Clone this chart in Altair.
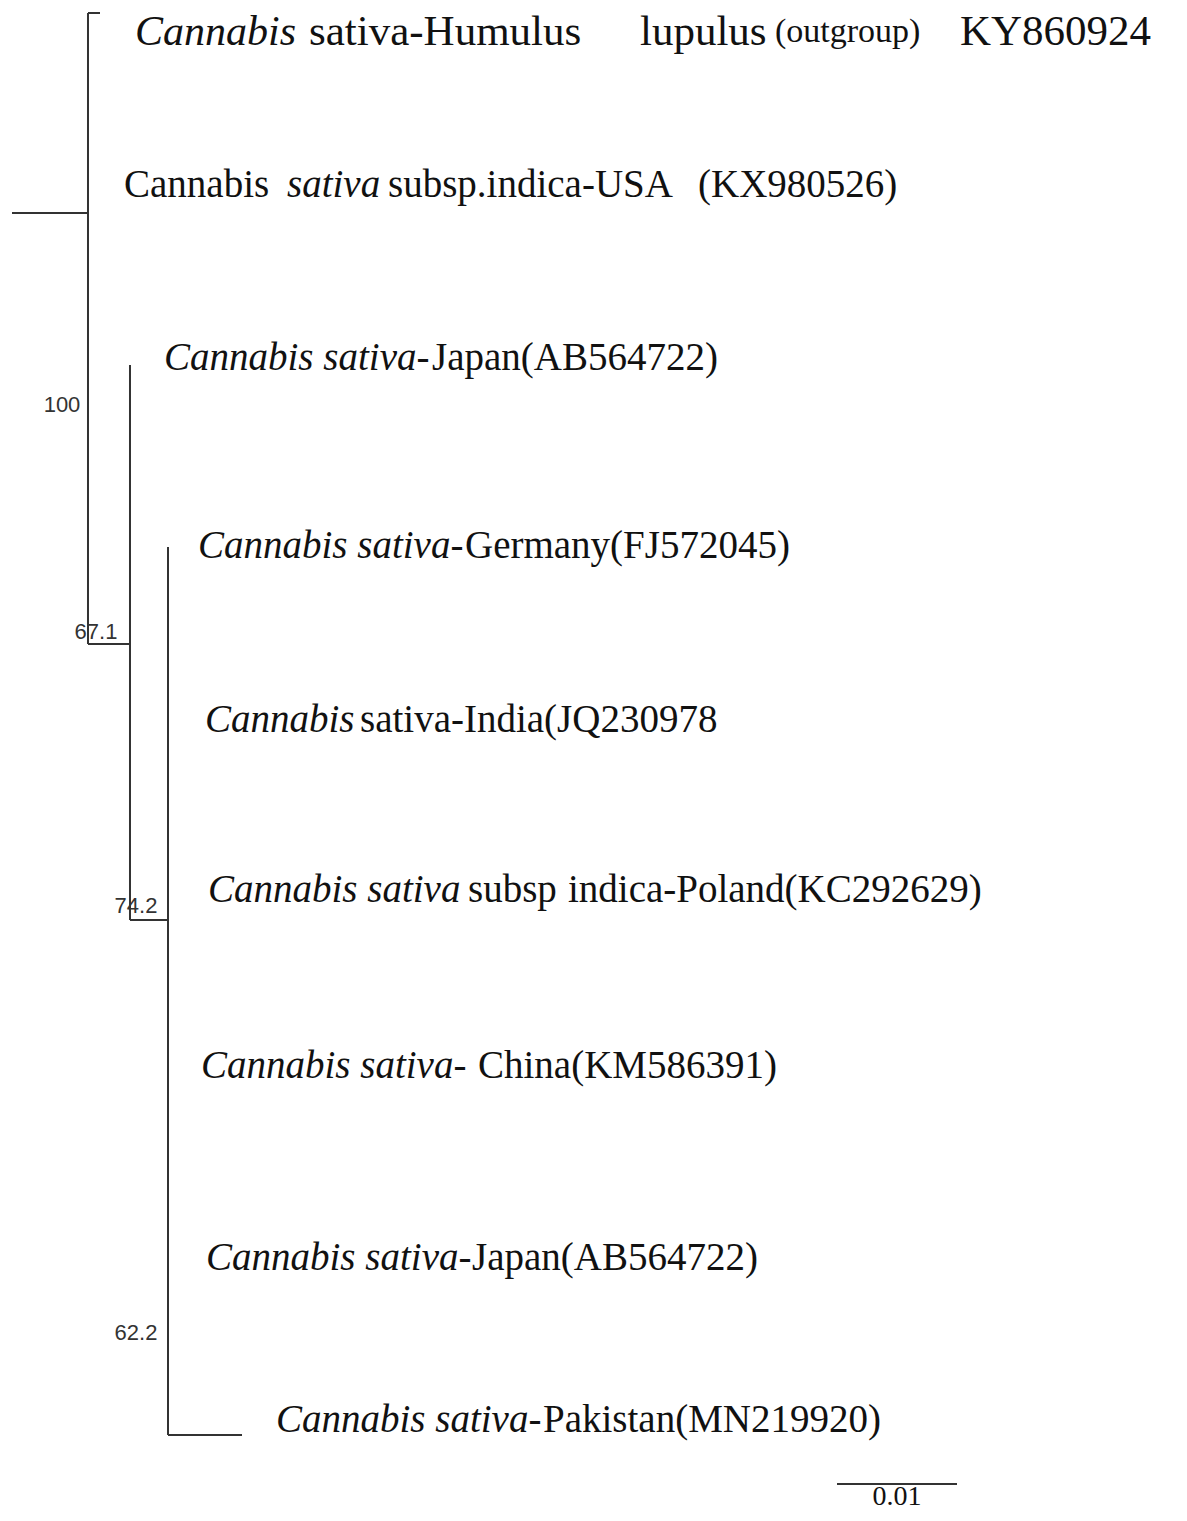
import altair as alt
import pandas as pd

# ---- tree branches (x: genetic distance from root, y: leaf-row units) ----
branch_x1 = [0.0, 0.006333, 0.006333, 0.006333, 0.009833, 0.009833, 0.013, 0.013]
branch_x2 = [0.006333, 0.006333, 0.007333, 0.009833, 0.009833, 0.013, 0.013, 0.019167]
branch_y1 = [1.093, -0.0515, -0.0515, 3.559, 1.963, 5.139, 3.004, 8.086]
branch_y2 = [1.093, 3.559, -0.0515, 3.559, 5.139, 5.139, 8.086, 8.086]

# ---- scale bar ----
scale_from = [0.06875]
scale_to = [0.07875]
scale_row = [8.366]
scale_label = ["0.01"]
scale_label_row = [8.438]

# ---- bootstrap support values ----
boot_values = ["100", "67.1", "74.2", "62.2"]
boot_x = [0.004167, 0.007, 0.010333, 0.010333]
boot_row = [2.192, 3.491, 5.059, 7.502]

# ---- taxon labels (split into italic / roman pieces) ----
top_italic_text = ["Cannabis"]
top_italic_x = [0.01025]
top_roman_text = ["sativa-Humulus", "lupulus", "KY860924"]
top_roman_x = [0.02475, 0.05233, 0.07900]
top_small_text = ["(outgroup)"]
top_small_x = [0.06358]
top_row = 0.0544

italic_text = ["sativa", "Cannabis sativa-", "Cannabis sativa-", "Cannabis",
               "Cannabis sativa", "Cannabis sativa-", "Cannabis sativa-", "Cannabis sativa-"]
italic_x = [0.022917, 0.012667, 0.0155, 0.016083, 0.016333, 0.01575, 0.016167, 0.022]
italic_row = [0.933, 1.923, 2.999, 3.994, 4.967, 5.974, 7.073, 8.0]

roman_text = ["Cannabis", "subsp.indica-USA", "(KX980526)", "Japan(AB564722)",
              "Germany(FJ572045)", "sativa-India(JQ230978", "subsp",
              "indica-Poland(KC292629)", "China(KM586391)", "Japan(AB564722)",
              "Pakistan(MN219920)"]
roman_x = [0.009333, 0.031333, 0.057167, 0.035, 0.03775, 0.029, 0.038, 0.046333,
           0.038833, 0.038333, 0.04425]
roman_row = [0.933, 0.933, 0.933, 1.923, 2.999, 3.994, 4.967, 4.967, 5.974, 7.073, 8.0]

# ---- tables ----
branches = pd.DataFrame({"x": branch_x1, "x2": branch_x2, "y": branch_y1, "y2": branch_y2})
scalebar = pd.DataFrame({"x": scale_from, "x2": scale_to, "y": scale_row})
scalelab = pd.DataFrame({"x": [(a + b) / 2 for a, b in zip(scale_from, scale_to)],
                         "y": scale_label_row, "t": scale_label})
boots = pd.DataFrame({"x": boot_x, "y": boot_row, "t": boot_values})
top_it = pd.DataFrame({"x": top_italic_x, "y": [top_row] * len(top_italic_x), "t": top_italic_text})
top_ro = pd.DataFrame({"x": top_roman_x, "y": [top_row] * len(top_roman_x), "t": top_roman_text})
top_sm = pd.DataFrame({"x": top_small_x, "y": [top_row] * len(top_small_x), "t": top_small_text})
ital = pd.DataFrame({"x": italic_x, "y": italic_row, "t": italic_text})
rom = pd.DataFrame({"x": roman_x, "y": roman_row, "t": roman_text})

W, H = 1171, 1505
px_per_unit = 12000.0
x0 = -4 / px_per_unit
xs = alt.Scale(domain=[x0, x0 + W / px_per_unit], nice=False, zero=False)
row_px = 174.75
r0 = -14 / row_px
ys = alt.Scale(domain=[r0, r0 + H / row_px], nice=False, zero=False, reverse=True)

X = lambda f="x": alt.X(f"{f}:Q", scale=xs, axis=None)
Y = lambda f="y": alt.Y(f"{f}:Q", scale=ys, axis=None)

line_color = "#333333"
serif = "Liberation Serif"

tree = alt.Chart(branches).mark_rule(color=line_color, strokeWidth=2).encode(
    x=X(), x2="x2:Q", y=Y(), y2="y2:Q")
bar = alt.Chart(scalebar).mark_rule(color=line_color, strokeWidth=2).encode(
    x=X(), x2="x2:Q", y=Y())
bar_text = alt.Chart(scalelab).mark_text(font=serif, fontSize=28, align="center",
                                         baseline="middle", color="#111").encode(
    x=X(), y=Y(), text="t:N")
boot_text = alt.Chart(boots).mark_text(font="Liberation Sans", fontSize=22, align="center",
                                       baseline="middle", color="#333").encode(
    x=X(), y=Y(), text="t:N")

def label_layer(df, size, italic=False):
    kw = dict(font=serif, fontSize=size, align="left", baseline="middle", color="#111")
    if italic:
        kw["fontStyle"] = "italic"
    return alt.Chart(df).mark_text(**kw).encode(x=X(), y=Y(), text="t:N")

layers = [
    tree, bar, bar_text, boot_text,
    label_layer(top_it, 42, italic=True),
    label_layer(top_ro, 43),
    label_layer(top_sm, 34),
    label_layer(ital, 39, italic=True),
    label_layer(rom, 39),
]

chart = alt.layer(*layers).properties(
    width=W, height=H, padding=0, autosize=alt.AutoSizeParams(type="none"),
    background="white",
).configure_view(stroke=None)

chart.save("out.html", embed_options={"renderer": "svg", "actions": False})
